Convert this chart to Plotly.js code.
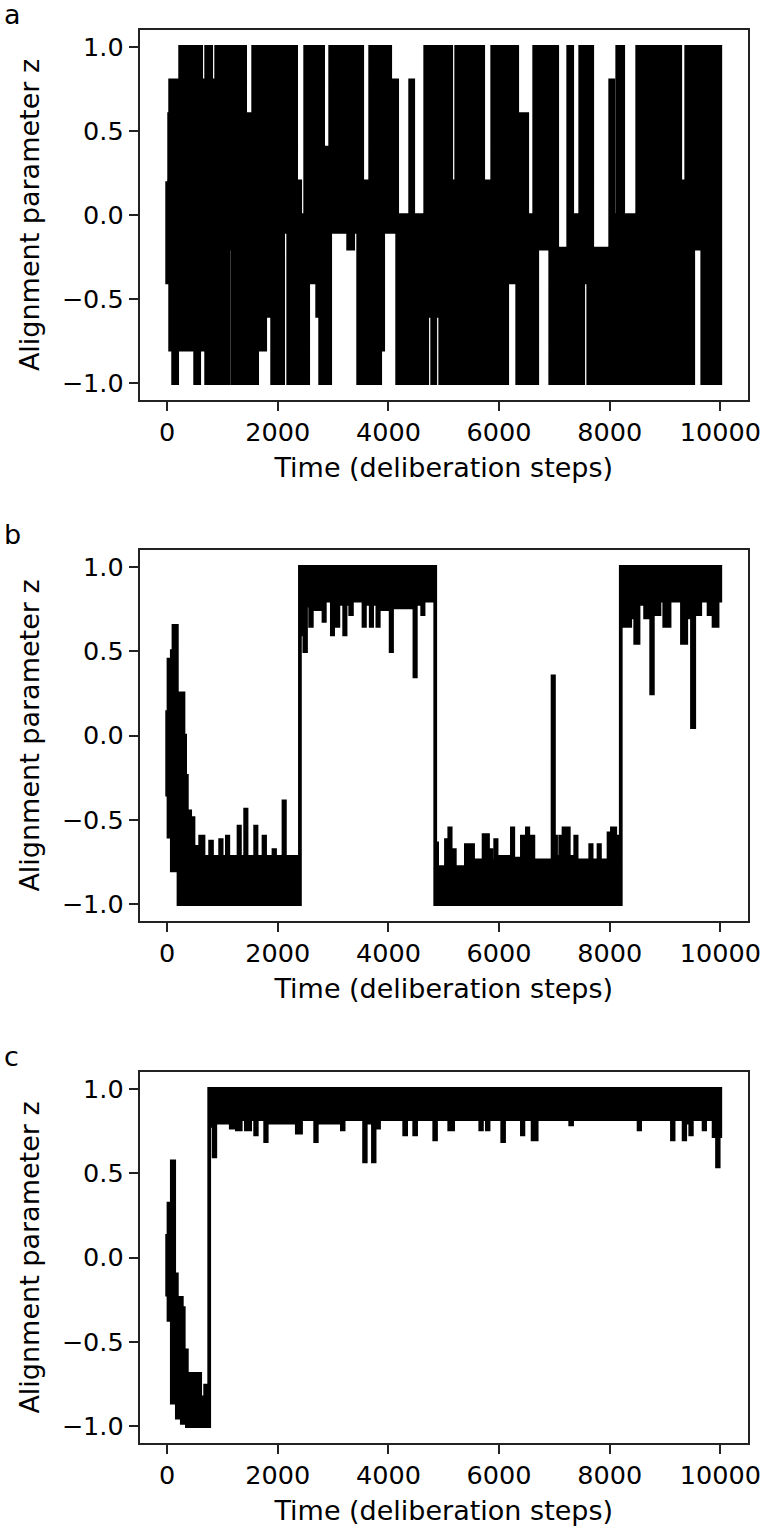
<!DOCTYPE html>
<html>
<head>
<meta charset="utf-8">
<script src="https://cdn.plot.ly/plotly-3.0.1.min.js"></script>
<style>
  html, body { margin: 0; padding: 0; background: #fff; }
  #fig { width: 766px; height: 1531px; }
</style>
</head>
<body>
<div id="fig"></div>
<script>
// Each run is drawn as the band the trace covers: for every stretch of
// deliberation steps, the highest and lowest z reached in that stretch.
const END_STEP = 9999;

// panel a
const aStart = [0, 36, 54, 108, 181, 235, 289, 506, 542, 579, 615, 705, 796, 832, 886, 1103,
  1175, 1248, 1266, 1410, 1437, 1555, 1627, 1681, 1772, 1898, 2007, 2043, 2097, 2188, 2260, 2278,
  2332, 2405, 2495, 2549, 2712, 2766, 2820, 2947, 3218, 3272, 3363, 3453, 3526, 3670, 3851, 3905,
  4032, 4158, 4393, 4448, 4665, 4701, 4791, 4846, 4936, 4972, 5026, 5135, 5225, 5297, 5352, 5713,
  5876, 6147, 6328, 6509, 6635, 6690, 6925, 7051, 7250, 7322, 7467, 7521, 7612, 7684, 8009, 8064,
  8136, 8190, 8244, 8497, 8855, 8913, 9275, 9383, 9510, 9673];
const aTop = [0.2, 0.6, 0.8, 0.8, 0.8, 1.0, 1.0, 1.0, 0.8, 1.0, 0.8, 1.0, 0.8, 0.6, 1.0, 1.0,
  1.0, 0.4, 1.0, 0.0, 0.6, 1.0, 1.0, 1.0, 1.0, 1.0, 0.4, 1.0, 1.0, 1.0, 0.2, 1.0,
  0.2, 0.0, 1.0, 1.0, 1.0, 1.0, 0.4, 1.0, 0.2, 1.0, 1.0, 1.0, 0.2, 1.0, 1.0, 1.0,
  0.8, 0.0, 0.8, 0.0, 1.0, 1.0, 1.0, 1.0, 1.0, 0.8, 1.0, 0.2, 1.0, 0.2, 1.0, 0.2,
  1.0, 1.0, 0.6, 0.0, 1.0, 1.0, 1.0, -0.2, 1.0, 0.0, 1.0, 1.0, 1.0, -0.2, 0.8, 0.0,
  1.0, 1.0, 0.0, 1.0, 1.0, 1.0, 0.2, 1.0, 1.0, 1.0];
const aBottom = [-0.4, -0.4, -0.8, -1.0, -0.8, -0.6, -0.8, -1.0, -1.0, -0.8, -0.8, -1.0, -0.8, -1.0, -1.0, -0.2,
  -1.0, -1.0, -1.0, -1.0, -1.0, -1.0, -0.6, -0.8, -0.6, -1.0, -1.0, -1.0, -0.1, -1.0, -1.0, -1.0,
  -1.0, -1.0, -1.0, -0.4, -0.6, -1.0, -1.0, -0.1, -0.1, -0.2, -0.1, -1.0, -1.0, -1.0, -0.8, -0.1,
  -0.1, -1.0, -1.0, -1.0, -1.0, -0.6, -1.0, -0.6, -1.0, -1.0, -1.0, -1.0, -1.0, -1.0, -1.0, -1.0,
  -1.0, -0.4, -1.0, -1.0, -1.0, -0.2, -1.0, -1.0, -1.0, -1.0, -1.0, -0.4, -1.0, -1.0, -1.0, -1.0,
  -1.0, -0.8, -1.0, -1.0, -0.4, -1.0, -1.0, -1.0, -0.2, -1.0];

// panel b
const bStart = [0, 24, 84, 114, 175, 205, 235, 295, 325, 356, 416, 476, 597, 657, 777, 810,
  958, 985, 1079, 1105, 1290, 1315, 1410, 1435, 1591, 1615, 1742, 1770, 1922, 1950, 2103, 2128,
  2400, 2480, 2510, 2585, 2615, 2826, 2850, 2977, 3000, 3068, 3095, 3200, 3225, 3309, 3340, 3549,
  3575, 3680, 3705, 3800, 3825, 4040, 4065, 4470, 4495, 4610, 4635,
  4846, 4880, 5040, 5065, 5100, 5125, 5170, 5200, 5400, 5425, 5480, 5530, 5720, 5800, 5860, 5930,
  5955, 6232, 6257, 6413, 6440, 6503, 6528, 6594, 6620, 6967, 6992, 7030, 7105, 7130, 7165, 7260,
  7377, 7402, 7648, 7673, 7798, 7823, 7979, 8040, 8100, 8142,
  8200, 8371, 8461, 8521, 8640, 8750, 8780, 8900, 8986, 9082, 9306, 9384, 9487, 9528, 9637, 9787,
  9877, 9950];
const bTop = [0.15, 0.45, 0.5, 0.65, 0.1, 0.1, 0.25, 0.0, -0.24, -0.45, -0.49, -0.66, -0.6, -0.72, -0.63, -0.72,
  -0.62, -0.72, -0.6, -0.72, -0.54, -0.72, -0.44, -0.72, -0.54, -0.72, -0.6, -0.72, -0.68, -0.72, -0.39, -0.72,
  1, 1, 1, 1, 1, 1, 1, 1, 1, 1, 1, 1, 1, 1, 1, 1,
  1, 1, 1, 1, 1, 1, 1, 1, 1, 1, 1,
  -0.64, -0.78, -0.62, -0.78, -0.55, -0.72, -0.68, -0.78, -0.65, -0.74, -0.65, -0.74, -0.59, -0.68, -0.74, -0.62,
  -0.72, -0.55, -0.73, -0.6, -0.74, -0.55, -0.72, -0.6, -0.74, 0.35, -0.6, -0.72, -0.6, -0.72, -0.55, -0.72,
  -0.6, -0.74, -0.65, -0.74, -0.65, -0.74, -0.58, -0.55, -0.6, -0.72,
  1, 1, 1, 1, 1, 1, 1, 1, 1, 1, 1, 1, 1, 1, 1, 1,
  1, 1];
const bBottom = [-0.35, -0.6, -0.8, -0.8, -0.8, -1, -1, -1, -1, -1, -1, -1, -1, -1, -1, -1,
  -1, -1, -1, -1, -1, -1, -1, -1, -1, -1, -1, -1, -1, -1, -1, -1,
  0.6, 0.5, 0.77, 0.65, 0.75, 0.68, 0.8, 0.6, 0.78, 0.65, 0.78, 0.6, 0.78, 0.72, 0.8, 0.65,
  0.78, 0.65, 0.78, 0.65, 0.75, 0.5, 0.76, 0.35, 0.78, 0.72, 0.8,
  -1, -1, -1, -1, -1, -1, -1, -1, -1, -1, -1, -1, -1, -1, -1, -1,
  -1, -1, -1, -1, -1, -1, -1, -1, -1, -1, -1, -1, -1, -1, -1, -1,
  -1, -1, -1, -1, -1, -1, -1, -1, -1, -1,
  0.65, 0.7, 0.55, 0.78, 0.7, 0.25, 0.72, 0.8, 0.65, 0.8, 0.55, 0.7, 0.05, 0.72, 0.8, 0.72,
  0.65, 0.8];

// panel c
const cStart = [0, 24, 84, 127, 175, 265, 300, 356, 597, 687,
  760, 840, 870, 1150, 1260, 1330, 1423, 1500, 1591, 1620, 1772, 1800, 2344, 2420, 2676, 2705,
  3158, 3190, 3560, 3590, 3720, 3750, 3830, 4285, 4320, 4466, 4500, 4828, 4860, 5099, 5170, 5660,
  5690, 5780, 5810, 6057, 6090, 6413, 6440, 6606, 6680, 7286, 7320, 8522, 8550, 9125, 9155, 9336,
  9365, 9456, 9485, 9697, 9725, 9878, 9940, 9970];
const cTop = [0.14, 0.32, 0.57, -0.1, -0.24, -0.3, -0.55, -0.69, -0.83, -0.76,
  1, 1, 1, 1, 1, 1, 1, 1, 1, 1, 1, 1, 1, 1, 1, 1,
  1, 1, 1, 1, 1, 1, 1, 1, 1, 1, 1, 1, 1, 1, 1, 1,
  1, 1, 1, 1, 1, 1, 1, 1, 1, 1, 1, 1, 1, 1, 1, 1,
  1, 1, 1, 1, 1, 1, 1, 1];
const cBottom = [-0.22, -0.37, -0.86, -0.86, -0.95, -0.98, -0.98, -1, -1, -1,
  0.78, 0.6, 0.8, 0.77, 0.76, 0.82, 0.76, 0.82, 0.73, 0.82, 0.69, 0.8, 0.74, 0.82, 0.69, 0.8,
  0.76, 0.82, 0.57, 0.8, 0.57, 0.77, 0.82, 0.73, 0.82, 0.73, 0.82, 0.7, 0.82, 0.76, 0.82, 0.76,
  0.82, 0.76, 0.82, 0.69, 0.82, 0.73, 0.82, 0.7, 0.82, 0.79, 0.82, 0.76, 0.82, 0.7, 0.82, 0.7,
  0.8, 0.73, 0.82, 0.76, 0.82, 0.72, 0.54, 0.72];

const xTicks = [0, 2000, 4000, 6000, 8000, 10000];
const xTickText = ['0', '2000', '4000', '6000', '8000', '10000'];
const yTicks = [-1.0, -0.5, 0.0, 0.5, 1.0];
const panelLetters = ['a', 'b', 'c'];

function bandOutline(start, top, bottom) {
  let x = [], y = [];
  for (let i = 0; i < start.length; i++) {
    let stop = i + 1 < start.length ? start[i + 1] : END_STEP;
    x.push(start[i], stop);
    y.push(top[i], top[i]);
  }
  for (let i = start.length - 1; i >= 0; i--) {
    let stop = i + 1 < start.length ? start[i + 1] : END_STEP;
    x.push(stop, start[i]);
    y.push(bottom[i], bottom[i]);
  }
  x.push(x[0]);
  y.push(y[0]);
  return {x: x, y: y};
}

const W = 766, H = 1531;
const TICK_FONT = {family: 'DejaVu Sans', size: 25.5, color: '#000'};
const TITLE_FONT = {family: 'DejaVu Sans', size: 27, color: '#000'};
// plot boxes in pixels: [left, top, right, bottom]
const boxes = [[139.5, 30, 748, 400], [139.5, 550, 748, 921], [139.5, 1072, 748, 1443]];
const panels = [[aStart, aTop, aBottom], [bStart, bTop, bBottom], [cStart, cTop, cBottom]];

let data = [];
let layout = {
  width: W, height: H,
  margin: {l: 0, r: 0, t: 0, b: 0},
  paper_bgcolor: '#fff', plot_bgcolor: '#fff',
  showlegend: false,
  font: TICK_FONT,
  annotations: []
};

panels.forEach((p, i) => {
  let o = bandOutline(p[0], p[1], p[2]);
  let n = i === 0 ? '' : String(i + 1);
  data.push({
    x: o.x, y: o.y,
    xaxis: 'x' + n, yaxis: 'y' + n,
    type: 'scatter', mode: 'lines',
    fill: 'toself', fillcolor: '#000',
    line: {color: '#000', width: 3.75},
    hoverinfo: 'skip'
  });
  let b = boxes[i];
  layout['xaxis' + n] = {
    domain: [b[0] / W, b[2] / W],
    anchor: 'y' + n,
    range: [-500, 10500],
    tickmode: 'array', tickvals: xTicks, ticktext: xTickText,
    ticks: 'outside', ticklen: 8.75, tickwidth: 2, tickcolor: '#222',
    showline: true, mirror: true, linecolor: '#222', linewidth: 2,
    showgrid: false, zeroline: false,
    tickfont: TICK_FONT,
    title: {text: 'Time (deliberation steps)', font: TITLE_FONT, standoff: 12}
  };
  layout['yaxis' + n] = {
    domain: [1 - b[3] / H, 1 - b[1] / H],
    anchor: 'x' + n,
    range: [-1.1, 1.1],
    tickmode: 'array', tickvals: yTicks, tickformat: '.1f',
    ticks: 'outside', ticklen: 8.75, tickwidth: 2, tickcolor: '#222',
    showline: true, mirror: true, linecolor: '#222', linewidth: 2,
    showgrid: false, zeroline: false,
    tickfont: TICK_FONT,
    title: {text: 'Alignment parameter z', font: TITLE_FONT, standoff: 14}
  };
  layout.annotations.push({
    text: panelLetters[i], xref: 'paper', yref: 'paper',
    x: 2 / W, y: 1 - (b[1] - 16) / H, xanchor: 'left', yanchor: 'middle',
    showarrow: false, font: TITLE_FONT
  });
});

Plotly.newPlot('fig', data, layout, {staticPlot: true});
</script>
</body>
</html>
